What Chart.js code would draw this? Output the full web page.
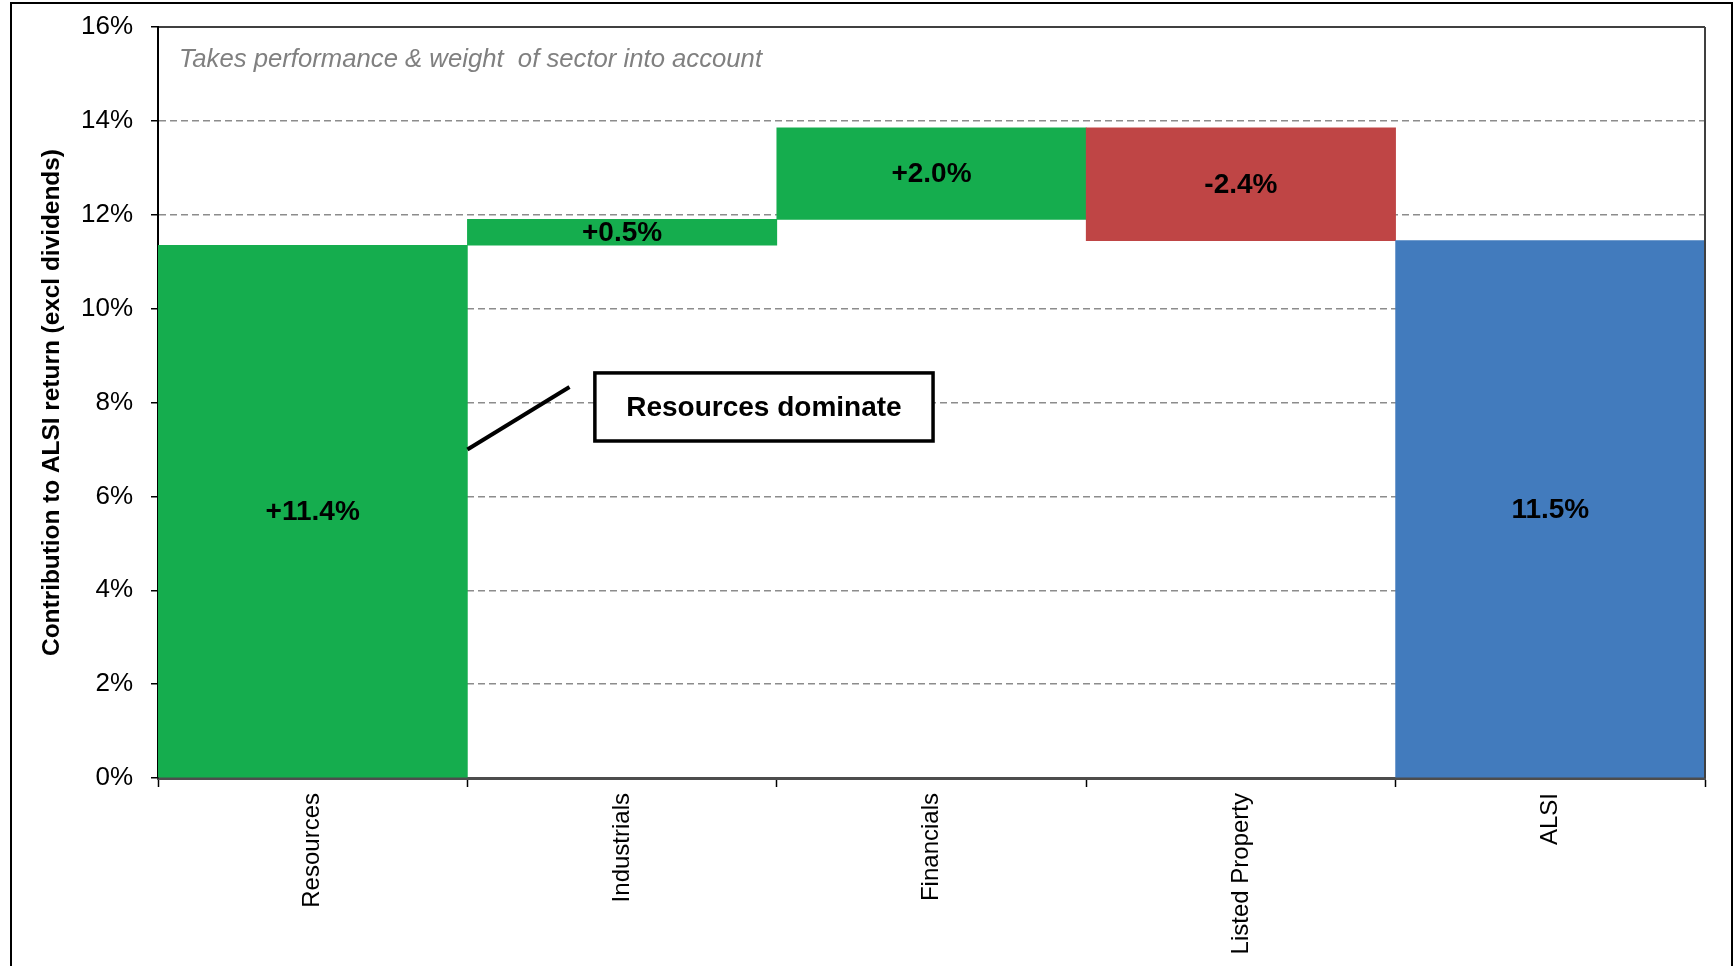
<!DOCTYPE html>
<html>
<head>
<meta charset="utf-8">
<script src="https://cdn.jsdelivr.net/npm/chart.js@4.4.1/dist/chart.umd.min.js"></script>
<style>
  html, body { margin: 0; padding: 0; background: #fff; }
  canvas { display: block; }
</style>
</head>
<body>
<canvas id="chart" width="1735" height="966"></canvas>
<script>
const categories = ['Resources', 'Industrials', 'Financials', 'Listed Property', 'ALSI'];
const barStarts = [0, 11.35, 11.9, 11.45, 0];
const barEnds = [11.35, 11.9, 13.85, 13.85, 11.45];
const valueLabels = ['+11.4%', '+0.5%', '+2.0%', '-2.4%', '11.5%'];
const barColors = ['#15ad4e', '#15ad4e', '#15ad4e', '#bf4545', '#427bbd'];
const yMin = 0, yMax = 16, yStep = 2;

const FONT = '"Liberation Sans", Arial, sans-serif';

const decor = {
  id: 'decor',
  beforeDraw(chart){
    const c = chart.ctx;
    c.save();
    c.fillStyle = '#fff';
    c.fillRect(0, 0, chart.width, chart.height);
    c.restore();
  },
  afterDatasetsDraw(chart){
    const c = chart.ctx;
    const meta = chart.getDatasetMeta(0);
    c.save();
    c.font = 'bold 28px ' + FONT;
    c.fillStyle = '#000';
    c.textAlign = 'center';
    c.textBaseline = 'middle';
    meta.data.forEach((bar, i) => {
      const p = bar.getProps(['x', 'y', 'base'], true);
      c.fillText(valueLabels[i], p.x, (p.y + p.base) / 2 + 1);
    });
    c.restore();
  },
  afterDraw(chart){
    const c = chart.ctx, a = chart.chartArea;
    const x = chart.scales.x, y = chart.scales.y;
    c.save();
    // top + right edge of plot area
    c.strokeStyle = '#000';
    c.lineWidth = 1.5;
    c.beginPath();
    c.moveTo(a.left, a.top);
    c.lineTo(a.right, a.top);
    c.stroke();
    c.strokeStyle = '#404040';
    c.lineWidth = 2;
    c.beginPath();
    c.moveTo(a.right, a.top);
    c.lineTo(a.right, a.bottom);
    c.stroke();

    // outer frame
    c.strokeStyle = '#000';
    c.lineWidth = 2;
    c.strokeRect(11, 3, 1721, 1000);

    // subtitle
    c.font = 'italic 25.7px ' + FONT;
    c.fillStyle = '#808080';
    c.textAlign = 'left';
    c.textBaseline = 'middle';
    c.fillText('Takes performance & weight  of sector into account', a.left + 21, a.top + 33);

    // callout line
    c.strokeStyle = '#000';
    c.lineWidth = 4;
    c.beginPath();
    c.moveTo(x.getPixelForValue(0.5), y.getPixelForValue(7.0));
    c.lineTo(x.getPixelForValue(0.83), y.getPixelForValue(8.33));
    c.stroke();

    // callout box
    const bl = x.getPixelForValue(0.912), br = x.getPixelForValue(2.005);
    const bt = y.getPixelForValue(8.63), bb = y.getPixelForValue(7.18);
    c.fillStyle = '#fff';
    c.fillRect(bl, bt, br - bl, bb - bt);
    c.lineWidth = 3.5;
    c.strokeRect(bl, bt, br - bl, bb - bt);
    c.font = 'bold 28px ' + FONT;
    c.fillStyle = '#000';
    c.textAlign = 'center';
    c.fillText('Resources dominate', (bl + br) / 2, (bt + bb) / 2 + 1);
    c.restore();
  }
};

new Chart(document.getElementById('chart'), {
  type: 'bar',
  data: {
    labels: categories,
    datasets: [{
      data: barStarts.map((s, i) => [s, barEnds[i]]),
      backgroundColor: barColors,
      borderWidth: 0,
      barPercentage: 1,
      categoryPercentage: 1
    }]
  },
  options: {
    responsive: false,
    animation: false,
    devicePixelRatio: 1,
    layout: { padding: { left: 0, right: 30, top: 27, bottom: 0 } },
    plugins: { legend: { display: false }, tooltip: { enabled: false } },
    scales: {
      x: {
        afterFit(scale){ scale.height = 188; },
        grid: {
          offset: true,
          drawOnChartArea: false,
          tickLength: 9,
          tickColor: '#000',
          tickWidth: 1.5
        },
        border: { color: '#4d4d4d', width: 3 },
        ticks: {
          minRotation: 90,
          maxRotation: 90,
          padding: 6,
          color: '#000',
          font: { family: FONT, size: 24 }
        }
      },
      y: {
        min: yMin,
        max: yMax,
        afterFit(scale){
          scale.width = 158;
          scale.paddingTop = 0;
          scale.paddingBottom = 0;
        },
        grid: {
          color: ctx => (ctx.tick && (ctx.tick.value === yMin || ctx.tick.value === yMax)) ? 'rgba(0,0,0,0)' : '#8c8c8c',
          lineWidth: 1.5,
          tickLength: 7,
          tickColor: '#000',
          tickWidth: 1.5,
          tickBorderDash: []
        },
        border: { color: '#000', width: 2, dash: [7, 4] },
        ticks: {
          stepSize: yStep,
          padding: 18,
          color: '#000',
          font: { family: FONT, size: 26 },
          callback: v => v + '%'
        },
        title: {
          display: true,
          text: 'Contribution to ALSI return (excl dividends)',
          color: '#000',
          font: { family: FONT, size: 24.4, weight: 'bold' },
          padding: { top: 38, bottom: 0 }
        }
      }
    }
  },
  plugins: [decor]
});
</script>
</body>
</html>
